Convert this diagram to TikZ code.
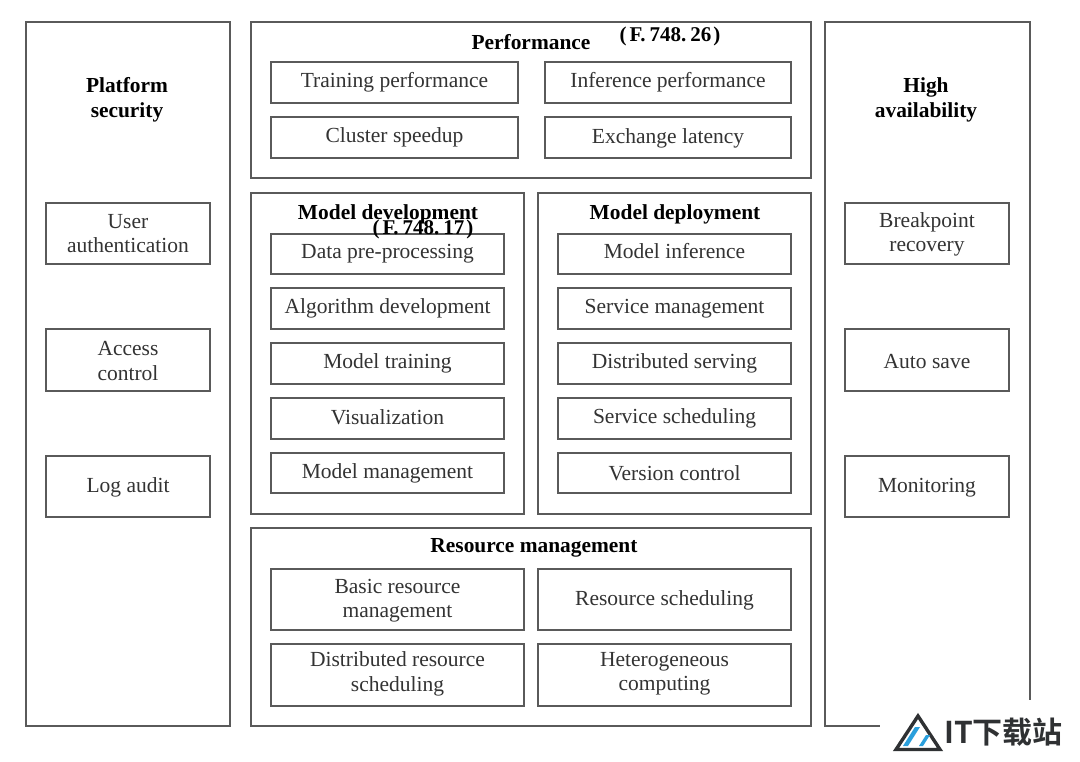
\documentclass[tikz,border=0pt]{standalone}
\usepackage{fontspec}
\setmainfont{Liberation Serif}
\newfontfamily\cjk{Noto Sans CJK SC Bold}
\definecolor{ln}{HTML}{5A5A5A}
\definecolor{tx}{HTML}{333333}
\definecolor{lb}{HTML}{2A9FDC}
\definecolor{dk}{HTML}{2F3133}
\tikzset{
 x=1pt,y=-1pt,
 box/.style={draw=ln,line width=1.6pt,rectangle,inner sep=0pt,align=center,text=tx,font=\fontsize{21.5}{24.5}\selectfont,execute at begin node=\strut,execute at end node=\strut},
 head/.style={inner sep=0pt,align=center,text=black,font=\fontsize{21.4}{24.5}\selectfont\bfseries},
 code/.style={inner sep=0pt,text=black,font=\fontsize{21}{22}\selectfont\bfseries},
}
\newcommand{\bx}[6]{\node[box,minimum width=#4pt-#2pt,minimum height=#5pt-#3pt] (#1) at ({(#2+#4)/2},{(#3+#5)/2}) {#6};}
\newcommand{\dn}[1]{\rule{0pt}{\dimexpr17.15pt+#1pt+#1pt\relax}}
\newcommand{\cd}[2]{(\hspace{3pt}F.\hspace{4pt}#1.\hspace{4pt}#2\hspace{2pt})}
\begin{document}
\begin{tikzpicture}
\useasboundingbox[fill=white] (0,0) rectangle (1080,762);
\bx{sec}{26}{22}{230}{726}{}
\bx{avail}{825}{22}{1030}{726}{}
\bx{perf}{251}{22}{811}{178}{}
\bx{dev}{251}{193}{524}{514}{}
\bx{dep}{538}{193}{811}{514}{}
\bx{res}{251}{528}{811}{726}{}
\node[head] (secT) at (127,100) {Platform\\security};
\node[head] (avT) at (926,100) {High\\availability};
\node[head] (perfT) at (531,42) {Performance};
\node[head] (devT) at (388,214) {Model development};
\node[head] (depT) at (675,214) {Model deployment};
\node[head] (resT) at (534,548) {Resource management};
\bx{a1}{46}{203}{210}{264}{\dn{2}User\\authentication}
\bx{a2}{46}{329}{210}{391}{\dn{3}Access\\control}
\bx{a3}{46}{456}{210}{517}{\dn{1}Log audit}
\bx{b1}{845}{203}{1009}{264}{\dn{1}Breakpoint\\recovery}
\bx{b2}{845}{329}{1009}{391}{\dn{4}Auto save}
\bx{b3}{845}{456}{1009}{517}{\dn{1}Monitoring}
\bx{p1}{271}{62}{518}{103}{Training performance}
\bx{p2}{545}{62}{791}{103}{Inference performance}
\bx{p3}{271}{117}{518}{158}{Cluster speedup}
\bx{p4}{545}{117}{791}{158}{\dn{1}Exchange latency}
\bx{d1}{271}{234}{504}{274}{Data pre-processing}
\bx{d2}{271}{288}{504}{329}{Algorithm development}
\bx{d3}{271}{343}{504}{384}{Model training}
\bx{d4}{271}{398}{504}{439}{\dn{1}Visualization}
\bx{d5}{271}{453}{504}{493}{\dn{1}Model management}
\bx{e1}{558}{234}{791}{274}{Model inference}
\bx{e2}{558}{288}{791}{329}{Service management}
\bx{e3}{558}{343}{791}{384}{Distributed serving}
\bx{e4}{558}{398}{791}{439}{Service scheduling}
\bx{e5}{558}{453}{791}{493}{\dn{3}Version control}
\bx{r1}{271}{569}{524}{630}{\dn{1}Basic resource\\management}
\bx{r2}{538}{569}{791}{630}{\dn{1}Resource scheduling}
\bx{r3}{271}{644}{524}{706}{Distributed resource\\scheduling}
\bx{r4}{538}{644}{791}{706}{Heterogeneous\\computing}
\node[code] (c1) at (670,36) {\cd{748}{26}};
\node[code] (c2) at (423,229) {\cd{748}{17}};
% watermark
\fill[white] (880,700) rectangle (1080,762);
\draw[dk,line width=3.4pt,line join=miter] (918,716) -- (896,749.5) -- (940,749.5) -- cycle;
\fill[lb] (915,727) -- (920,727) -- (908,746) -- (903,746) -- cycle;
\fill[lb] (926,735) -- (930,735) -- (923,746) -- (919,746) -- cycle;
\node[inner sep=0pt,text=dk,anchor=west,font=\cjk\fontsize{30}{30}\selectfont] (wm) at (944,732) {IT下载站};
\end{tikzpicture}
\end{document}
